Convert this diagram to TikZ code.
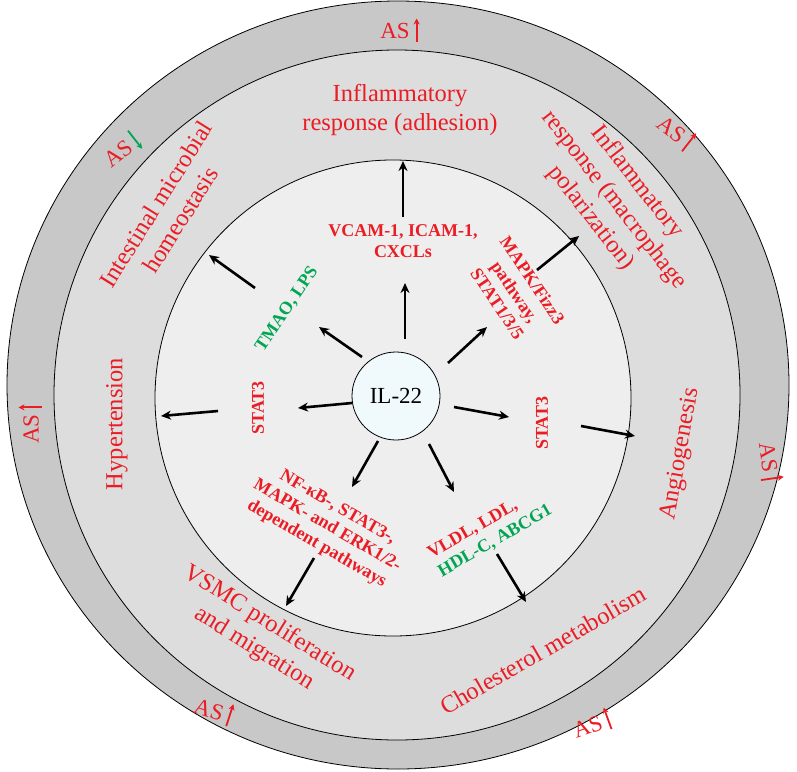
\documentclass[tikz,border=0pt]{standalone}
\usepackage{fontspec}
\setmainfont{Liberation Serif}
\usetikzlibrary{arrows.meta}
\definecolor{ringA}{RGB}{200,200,200}
\definecolor{ringB}{RGB}{221,221,221}
\definecolor{ringC}{RGB}{238,238,238}
\definecolor{ilc}{RGB}{240,250,252}
\definecolor{myred}{RGB}{235,28,36}
\definecolor{mygreen}{RGB}{0,166,81}
\begin{document}
\begin{tikzpicture}[x=1pt,y=-1pt,
  arr/.style={-{Stealth[length=10pt,width=9pt]},line width=2.6pt},
  outer/.style={text=myred,font=\fontsize{24.5}{29}\selectfont,align=center},
  inner/.style={text=myred,font=\bfseries\fontsize{18}{21}\selectfont,align=center},
  ginner/.style={text=mygreen,font=\bfseries\fontsize{18}{21}\selectfont,align=center},
  aslab/.style={text=myred,font=\fontsize{23}{26}\selectfont}]
\useasboundingbox (0,0) rectangle (797,771);
\draw[fill=ringA,line width=0.8pt] (398,385) ellipse [x radius=391,y radius=384];
\draw[fill=ringB,line width=0.8pt] (397,395) ellipse [x radius=343,y radius=345];
\draw[fill=ringC,line width=0.8pt] (393,398) circle (238);
\node[circle,draw,fill=ilc,line width=0.8pt,minimum size=88pt,font=\fontsize{23}{26}\selectfont] (il) at (396,396) {IL-22};
% outer labels
\node[outer] (o1) at (400,110) {Inflammatory\\response (adhesion)};
\node[outer,rotate=-52] (o2) at (614,200) {Inflammatory\\response (macrophage\\polarization)};
\node[outer,rotate=58] (o3) at (168,212) {Intestinal microbial\\homeostasis};
\node[outer,rotate=90] (o4) at (117,424) {Hypertension};
\node[outer,rotate=80] (o5) at (681,454) {Angiogenesis};
\node[outer,rotate=-32] (o6) at (262,636) {VSMC proliferation\\and migration};
\node[outer,rotate=30] (o7) at (543,650) {Cholesterol metabolism};
% AS labels
\newcommand{\upar}[1]{\tikz[baseline=0pt,x=1pt,y=1pt]\draw[-{Stealth[length=6pt,width=6pt]},#1,line width=1.8pt] (0,-3)--(0,20);}
\newcommand{\dnar}[1]{\tikz[baseline=0pt,x=1pt,y=1pt]\draw[-{Stealth[length=6pt,width=6pt]},#1,line width=1.8pt] (0,20)--(0,-3);}
\node[aslab] (a1) at (400,30) {AS\,\upar{myred}};
\node[aslab,rotate=-38] (a2) at (676,132) {AS\,\upar{myred}};
\node[aslab,rotate=38] (a3) at (122,150) {AS\,\dnar{mygreen}};
\node[aslab,rotate=90] (a4) at (30,424) {AS\,\upar{myred}};
\node[aslab,rotate=-82] (a5) at (770,462) {AS\,\upar{myred}};
\node[aslab,rotate=-18] (a6) at (214,710) {AS\,\upar{myred}};
\node[aslab,rotate=20] (a7) at (592,724) {AS\,\upar{myred}};
% inner labels
\node[inner] (i1) at (403,241) {VCAM-1, ICAM-1,\\CXCLs};
\node[inner,rotate=-56] (i2) at (515,292) {MAPK/Fizz3\\pathway,\\STAT1/3/5};
\node[ginner,rotate=56] (i3) at (287,309) {TMAO, LPS};
\node[inner,rotate=90] (i4) at (258,408) {STAT3};
\node[inner,rotate=90] (i5) at (542,423) {STAT3};
\node[inner,rotate=-30] (i6) at (327,526) {NF-κB-, STAT3-,\\MAPK- and ERK1/2-\\dependent pathways};
\node[inner,rotate=30,align=left] (i7) at (490,532) {VLDL, LDL,\\\textcolor{mygreen}{HDL-C, ABCG1}};
% arrow coordinates
\coordinate (p1s) at (405,339); \coordinate (p1e) at (405,283);
\coordinate (p2s) at (362,357); \coordinate (p2e) at (319,327);
\coordinate (p3s) at (448,363); \coordinate (p3e) at (487,327);
\coordinate (p4s) at (352,403); \coordinate (p4e) at (298,408);
\coordinate (p5s) at (454,407); \coordinate (p5e) at (509,417);
\coordinate (p6s) at (378,441); \coordinate (p6e) at (352,487);
\coordinate (p7s) at (429,444); \coordinate (p7e) at (454,492);
\coordinate (q1s) at (403,217); \coordinate (q1e) at (403,161);
\coordinate (q2s) at (255,288); \coordinate (q2e) at (209,255);
\coordinate (q3s) at (537,270); \coordinate (q3e) at (579,236);
\coordinate (q4s) at (218,411); \coordinate (q4e) at (161,416);
\coordinate (q5s) at (581,426); \coordinate (q5e) at (635,436);
\coordinate (q6s) at (314,558); \coordinate (q6e) at (286,606);
\coordinate (q7s) at (497,554); \coordinate (q7e) at (526,602);
\foreach \k in {1,...,7}{
  \draw[arr] (p\k s) -- (p\k e);
  \draw[arr] (q\k s) -- (q\k e);
}
\end{tikzpicture}
\end{document}
